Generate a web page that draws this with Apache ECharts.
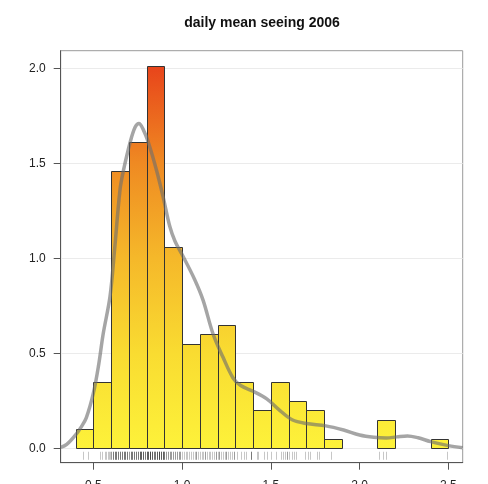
<!DOCTYPE html>
<html>
<head>
<meta charset="utf-8">
<script src="https://cdn.jsdelivr.net/npm/echarts@6/dist/echarts.min.js"></script>
<style>html,body{margin:0;padding:0;background:#fff;overflow:hidden}#c{position:absolute;left:0;top:0;width:488px;height:484px}</style>
</head>
<body>
<div id="c"></div>
<script>
// Histogram bins (left edge, right edge) and density heights
var binStarts = [0.4,0.5,0.6,0.7,0.8,0.9,1.0,1.1,1.2,1.3,1.4,1.5,1.6,1.7,1.8,1.9,2.0,2.1,2.2,2.3,2.4];
var binEnds   = [0.5,0.6,0.7,0.8,0.9,1.0,1.1,1.2,1.3,1.4,1.5,1.6,1.7,1.8,1.9,2.0,2.1,2.2,2.3,2.4,2.5];
var densities = [0.10,0.35,1.46,1.61,2.01,1.06,0.55,0.60,0.65,0.35,0.20,0.35,0.25,0.20,0.05,0,0,0.15,0,0,0.05];

// Kernel density curve
var kdeX = [0.316,0.35,0.40,0.43,0.46,0.50,0.53,0.555,0.594,0.62,0.65,0.669,0.707,0.735,0.757,0.78,0.81,0.857,0.894,0.93,0.96,1.0,1.07,1.118,1.175,1.23,1.287,1.33,1.40,1.477,1.55,1.62,1.70,1.81,1.91,2.0,2.08,2.15,2.21,2.27,2.33,2.40,2.50,2.581];
var kdeY = [0.005,0.02,0.07,0.11,0.16,0.29,0.44,0.60,0.80,1.05,1.36,1.46,1.61,1.69,1.71,1.68,1.61,1.46,1.32,1.17,1.09,1.02,0.89,0.78,0.60,0.48,0.37,0.33,0.30,0.26,0.20,0.15,0.13,0.118,0.096,0.07,0.058,0.054,0.06,0.065,0.055,0.035,0.014,0.003];

// Rug observations
var rugValues = [
  0.44,0.47,
  0.535,0.547,0.566,0.572,0.58,0.588,0.596,
  0.60,0.60,0.61,0.61,0.61,0.62,0.62,0.62,0.63,0.63,0.63,0.64,0.64,0.64,0.65,0.65,0.65,0.66,0.66,0.66,0.67,0.67,0.67,0.68,0.68,0.68,0.69,0.69,0.69,
  0.70,0.70,0.71,0.71,0.71,0.72,0.72,0.72,0.73,0.73,0.73,0.74,0.74,0.74,0.75,0.75,0.75,0.76,0.76,0.76,0.76,0.77,0.77,0.77,0.77,0.78,0.78,0.78,0.78,0.79,0.79,0.79,
  0.80,0.80,0.80,0.80,0.81,0.81,0.81,0.81,0.82,0.82,0.82,0.82,0.82,0.83,0.83,0.83,0.83,0.84,0.84,0.84,0.85,0.85,0.85,0.86,0.86,0.86,0.86,0.87,0.87,0.87,0.87,0.87,0.88,0.88,0.88,0.88,0.89,0.89,0.89,0.89,
  0.90,0.90,0.90,0.91,0.91,0.92,0.92,0.93,0.93,0.94,0.94,0.95,0.95,0.96,0.96,0.97,0.97,0.98,0.98,0.99,0.99,
  1.00,1.01,1.02,1.03,1.04,1.05,1.06,1.07,1.08,1.08,1.09,
  1.10,1.11,1.12,1.13,1.13,1.14,1.15,1.16,1.17,1.18,1.19,1.19,
  1.20,1.21,1.21,1.22,1.23,1.24,1.25,1.25,1.26,1.27,1.28,1.29,1.29,
  1.31,1.33,1.35,1.36,1.39,1.39,1.39,
  1.42,1.43,1.46,1.48,
  1.50,1.53,1.56,1.57,1.58,1.59,1.59,
  1.60,1.62,1.63,1.64,1.69,
  1.71,1.72,1.76,1.77,
  1.84,
  2.11,2.13,2.15,
  2.49
];

var xTicks = [0.5,1.0,1.5,2.0,2.5];
var yTicks = [0.0,0.5,1.0,1.5,2.0];
var titleText = 'daily mean seeing 2006';

var barData = binStarts.map(function(s,i){ return [s, binEnds[i], densities[i]]; }).filter(function(d){ return d[2] > 0; });
var kdeData = kdeX.map(function(x,i){ return [x, kdeY[i]]; });
var rugData = rugValues.map(function(v){ return [v, 0]; });

var el = document.getElementById('c');
var chart = echarts.init(el, null, {renderer:'canvas', width: 488, height: 484});
var font = '"Liberation Sans", Arial, Helvetica, sans-serif';
chart.setOption({
  animation: false,
  backgroundColor: '#fff',
  graphic: [{
    type: 'text', x: 262, y: 23, z: 10,
    style: {text: titleText, x: 0, y: 0, align: 'center', verticalAlign: 'middle',
            font: 'bold 14px ' + font, fill: '#111'}
  }],
  grid: {left: 60.7, right: 25.3, top: 50.7, bottom: 21.3, containLabel: false, outerBoundsMode: 'none',
         show: true, borderColor: '#9a9a9a', borderWidth: 1, backgroundColor: 'transparent'},
  xAxis: {
    type: 'value', min: 0.316, max: 2.581,
    axisLine: {show: true, onZero: false, lineStyle: {color: '#555', width: 1}},
    axisTick: {show: true, length: 7, customValues: xTicks, lineStyle: {color: '#555'}},
    axisLabel: {customValues: xTicks, margin: 17, fontFamily: font, fontSize: 12, color: '#222', formatter: function(v){ return v.toFixed(1); }},
    splitLine: {show: false}
  },
  yAxis: {
    type: 'value', min: -0.076, max: 2.093,
    axisLine: {show: true, onZero: false, lineStyle: {color: '#555', width: 1}},
    axisTick: {show: true, length: 7, customValues: yTicks, lineStyle: {color: '#555'}},
    axisLabel: {customValues: yTicks, margin: 15, fontFamily: font, fontSize: 12, color: '#222', formatter: function(v){ return v.toFixed(1); }},
    splitLine: {show: true, lineStyle: {color: '#ebebeb', width: 1}}
  },
  series: [
    {
      type: 'custom',
      data: barData,
      renderItem: function(params, api){
        var p0 = api.coord([api.value(0), 0]);
        var p1 = api.coord([api.value(1), api.value(2)]);
        var yBase = api.coord([1, 0])[1];
        var yTop = api.coord([1, 2.0])[1];
        return {
          type: 'rect',
          shape: {x: Math.round(p0[0]) + 0.5, y: Math.round(p1[1]) + 0.5, width: Math.round(p1[0]) - Math.round(p0[0]), height: Math.round(p0[1]) - Math.round(p1[1])},
          style: {
            fill: {type: 'linear', x: 0, y: yBase, x2: 0, y2: yTop, global: true,
              colorStops: [
                {offset: 0, color: '#fdf23a'},
                {offset: 0.25, color: '#f9dc31'},
                {offset: 0.5, color: '#f5b82a'},
                {offset: 0.75, color: '#ef8a22'},
                {offset: 1, color: '#e8461b'}
              ]},
            stroke: '#333', lineWidth: 1
          }
        };
      },
      z: 2
    },
    {
      type: 'custom',
      data: rugData,
      renderItem: function(params, api){
        var p = api.coord([api.value(0), 0]);
        var x = Math.round(p[0]) + 0.5;
        return {type: 'line', shape: {x1: x, y1: p[1] + 3.5, x2: x, y2: p[1] + 11.5}, style: {stroke: 'rgba(0,0,0,0.22)', lineWidth: 1}};
      },
      z: 3
    },
    {
      type: 'line',
      data: kdeData,
      smooth: 0.35,
      showSymbol: false,
      symbol: 'none',
      clip: true,
      lineStyle: {color: 'rgba(110,110,110,0.62)', width: 3.5},
      z: 4
    }
  ]
});
</script>
</body>
</html>
